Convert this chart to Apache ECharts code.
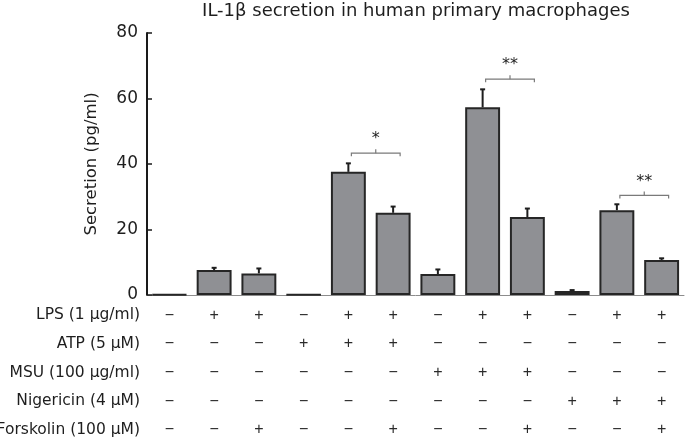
<!DOCTYPE html>
<html>
<head>
<meta charset="utf-8">
<script src="https://cdn.jsdelivr.net/npm/echarts@6/dist/echarts.min.js"></script>
<style>
html,body{margin:0;padding:0;background:#fff;}
#chart{width:685px;height:439px;}
</style>
</head>
<body>
<div id="chart"></div>
<script>
// ---- data ----
var categories = ['G1','G2','G3','G4','G5','G6','G7','G8','G9','G10','G11','G12'];
var secretion = [0.2, 7.6, 6.6, 0.1, 37.6, 25.1, 6.4, 57.3, 23.8, 1.2, 25.9, 10.7];
var errorUp   = [0.0, 0.7, 1.5, 0.0, 2.6, 1.9, 1.4, 5.5, 2.6, 0.3, 1.8, 0.5];
var yTicks = [0, 20, 40, 60, 80];
var rowNames = ['LPS (1 \u03bcg/ml)', 'ATP (5 \u03bcM)', 'MSU (100 \u03bcg/ml)', 'Nigericin (4 \u03bcM)', 'Forskolin (100 \u03bcM)'];
var lps       = ['-','+','+','-','+','+','-','+','+','-','+','+'];
var atp       = ['-','-','-','+','+','+','-','-','-','-','-','-'];
var msu       = ['-','-','-','-','-','-','+','+','+','-','-','-'];
var nigericin = ['-','-','-','-','-','-','-','-','-','+','+','+'];
var forskolin = ['-','-','+','-','-','+','-','-','+','-','-','+'];
// significance brackets: [from index, to index, height, label]
var brackets = [[4, 5, 43.3, '*'], [7, 8, 65.9, '**'], [10, 11, 30.4, '**']];
var titleText = 'IL-1\u03b2 secretion in human primary macrophages';
var yName = 'Secretion (pg/ml)';

// ---- layout/style ----
var FONT = 'DejaVu Sans';
var gridTop = 33, gridBottom = 144, gridLeft = 147, gridRight = 1;
var rowLH = 28.6, rowStart = 6, signMargin = 6;
var rows = [lps, atp, msu, nigericin, forskolin];
function sign(s){ return s === '+' ? '+' : '\u2212'; }

var chart = echarts.init(document.getElementById('chart'), null, {renderer:'canvas'});

var axisY = 439 - gridBottom;
var graphics = rowNames.map(function(name, r){
  return {
    type: 'text',
    x: 140,
    y: axisY + rowStart + rowLH * r + rowLH / 2,
    style: {
      text: name, font: '15.5px "' + FONT + '"', fill: '#1e1e1e',
      align: 'right', verticalAlign: 'middle'
    }
  };
});

var option = {
  animation: false,
  backgroundColor: '#ffffff',
  title: {
    text: titleText,
    left: 411, top: -3, textAlign: 'center',
    textStyle: { fontFamily: FONT, fontSize: 18, fontWeight: 'normal', color: '#1e1e1e' }
  },
  grid: { left: gridLeft, right: gridRight, top: gridTop, bottom: gridBottom,
          containLabel: false, outerBoundsMode: 'none' },
  graphic: graphics,
  xAxis: {
    type: 'category',
    data: categories,
    axisLine: { show: true, lineStyle: { color: '#8c8c8c', width: 1 } },
    axisTick: { show: false },
    axisLabel: {
      margin: signMargin,
      interval: 0,
      lineHeight: rowLH,
      fontFamily: 'Liberation Sans',
      fontSize: 16,
      color: '#2a2a2a',
      formatter: function(v, idx){
        return rows.map(function(r){ return sign(r[idx]); }).join('\n');
      }
    }
  },
  yAxis: {
    type: 'value',
    min: yTicks[0], max: yTicks[yTicks.length - 1], interval: 20,
    name: yName,
    nameLocation: 'middle',
    nameGap: 47,
    nameRotate: 90,
    nameTextStyle: { fontFamily: FONT, fontSize: 16.5, color: '#1e1e1e' },
    axisLine: { show: true, lineStyle: { color: '#1a1a1a', width: 2 } },
    axisTick: { show: true, inside: true, length: 5, lineStyle: { color: '#1a1a1a', width: 1.5 } },
    axisLabel: { margin: 9, fontFamily: FONT, fontSize: 17, color: '#1e1e1e' },
    splitLine: { show: false }
  },
  series: [
    {
      type: 'bar',
      data: secretion,
      barWidth: '78%',
      itemStyle: { color: '#8f9094', borderColor: '#262626', borderWidth: 2 },
      z: 2
    },
    {
      type: 'custom',
      z: 3,
      data: secretion.map(function(v, i){ return [i, v, v + errorUp[i]]; }),
      renderItem: function(params, api){
        var i = api.value(0);
        var p0 = api.coord([i, api.value(1)]);
        var p1 = api.coord([i, api.value(2)]);
        if (api.value(2) - api.value(1) <= 0) return null;
        return {
          type: 'group',
          children: [
            { type: 'line', shape: { x1: p0[0], y1: p0[1], x2: p1[0], y2: p1[1] },
              style: { stroke: '#1e1e1e', lineWidth: 2 } },
            { type: 'line', shape: { x1: p1[0] - 2.5, y1: p1[1], x2: p1[0] + 2.5, y2: p1[1] },
              style: { stroke: '#1e1e1e', lineWidth: 2 } }
          ]
        };
      }
    },
    {
      type: 'custom',
      z: 4,
      data: brackets,
      renderItem: function(params, api){
        var a = api.coord([api.value(0), api.value(2)]);
        var b = api.coord([api.value(1), api.value(2)]);
        var x1 = a[0] + 3, x2 = b[0] + 7, y = a[1];
        var xm = (x1 + x2) / 2;
        var col = '#7a7a7a';
        return {
          type: 'group',
          children: [
            { type: 'polyline', shape: { points: [[x1, y + 3], [x1, y], [x2, y], [x2, y + 3]] },
              style: { stroke: col, lineWidth: 1.2, fill: null } },
            { type: 'line', shape: { x1: xm, y1: y, x2: xm, y2: y - 4 },
              style: { stroke: col, lineWidth: 1.2 } },
            { type: 'text', x: xm, y: y - 14,
              style: { text: brackets[params.dataIndex][3], font: '16px "' + FONT + '"',
                       fill: '#1e1e1e', align: 'center', verticalAlign: 'middle' } }
          ]
        };
      }
    }
  ]
};
chart.setOption(option);
</script>
</body>
</html>
